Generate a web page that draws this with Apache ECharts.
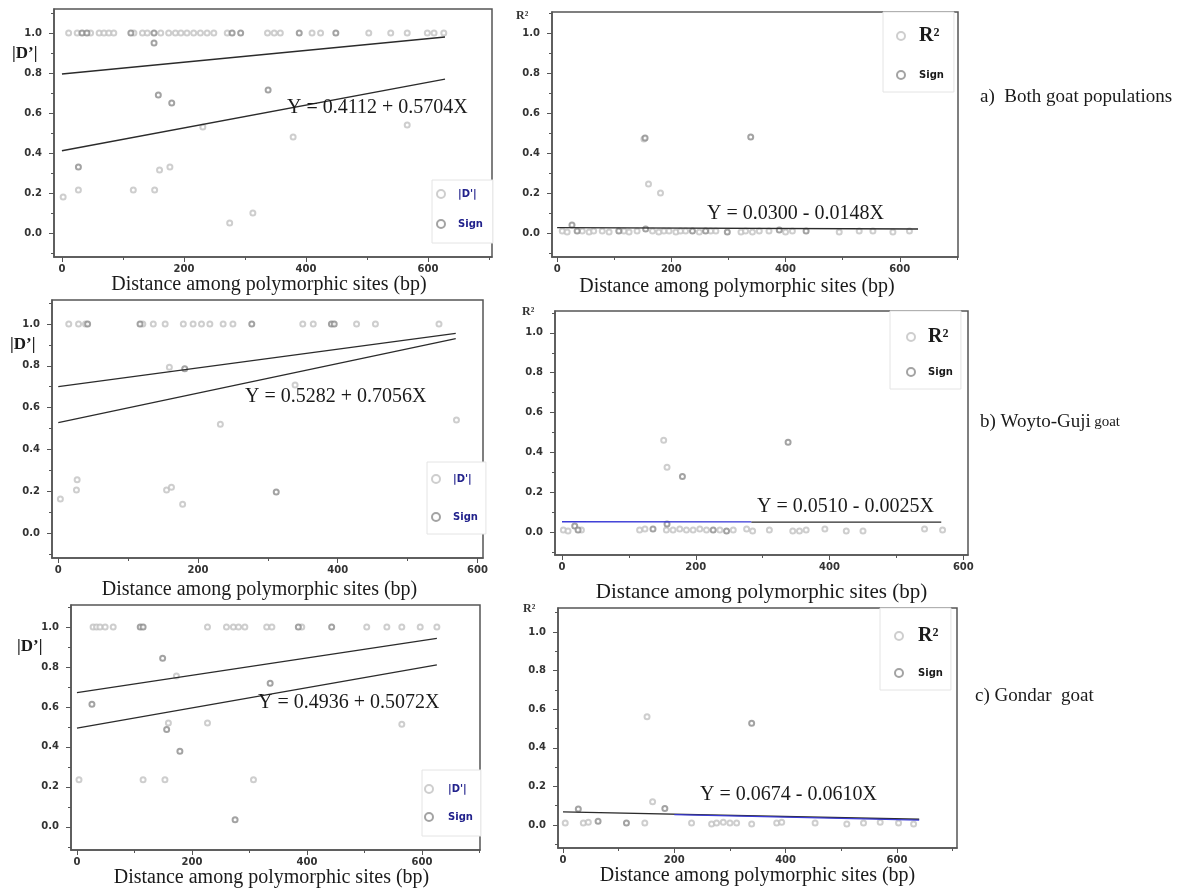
<!DOCTYPE html>
<html>
<head>
<meta charset="utf-8">
<title>LD decay - goat populations</title>
<script src="https://cdn.jsdelivr.net/npm/echarts@6/dist/echarts.min.js"></script>
<style>
  html, body { margin: 0; padding: 0; background: #fff; }
  #chart { width: 1181px; height: 892px; }
</style>
</head>
<body>
<div id="chart"></div>
<script>
// tick labels
const xTicks = [0, 200, 400, 600];
const xMinorTicks = [100, 300, 500, 700];
const yTicks = [0, 0.2, 0.4, 0.6, 0.8, 1.0];
const yMinorTicks = [-0.1, 0.1, 0.3, 0.5, 0.7, 0.9, 1.1];

/* a) both goat populations : [distance (bp), value] */
const bothD = [[11,1],[25,1],[47,1],[61,1],[69,1],[77,1],[85,1],[118,1],[132,1],[140,1],[162,1],[175,1],[186,1],[195,1],[205,1],[216,1],[227,1],[238,1],[249,1],[271,1],[337,1],[348,1],[358,1],[410,1],[424,1],[503,1],[539,1],[566,1],[599,1],[610,1],[626,1],
  [2,0.18],[27,0.215],[117,0.215],[152,0.215],[160,0.315],[177,0.33],[231,0.53],[275,0.05],[313,0.10],[379,0.48],[566,0.54]];
const bothDSign = [[33,1],[41,1],[113,1],[151,1],[279,1],[293,1],[389,1],[449,1],[151,0.95],[27,0.33],[158,0.69],[180,0.65],[338,0.715]];
const bothDFitUpper = [[0,0.795],[628,0.98]];
const bothDFitLower = [[0,0.4112],[628,0.769]];
const bothR2 = [[9,0.01],[17.5,0.005],[44,0.01],[56,0.005],[64,0.01],[79,0.01],[91,0.005],[117,0.01],[126,0.005],[140,0.01],[167,0.01],[178,0.005],[187,0.01],[196,0.01],[208,0.005],[216,0.01],[225,0.01],[249,0.005],[269,0.01],[278,0.01],[322,0.005],[330,0.01],[342,0.005],[354,0.01],[371,0.01],[400,0.005],[412,0.01],[494,0.005],[529,0.01],[553,0.01],[588,0.005],[617,0.01],
  [152,0.47],[160,0.245],[181,0.20]];
const bothR2Sign = [[26,0.04],[35,0.01],[108,0.01],[155,0.02],[237,0.01],[260,0.01],[298,0.005],[389,0.015],[436,0.01],[154,0.475],[339,0.48]];
const bothR2Fit = [[0,0.027],[632,0.02]];

/* b) Woyto-Guji goat */
const woytoD = [[15,1],[29,1],[39,1],[121,1],[136,1],[153,1],[179,1],[193,1],[205,1],[217,1],[236,1],[250,1],[350,1],[365,1],[427,1],[454,1],[545,1],
  [3,0.163],[26,0.206],[27,0.254],[155,0.206],[162,0.219],[178,0.137],[159,0.793],[232,0.52],[339,0.708],[570,0.54]];
const woytoDSign = [[42,1],[117,1],[277,1],[391,1],[395,1],[181,0.786],[312,0.196]];
const woytoDFitUpper = [[0,0.70],[569,0.955]];
const woytoDFitLower = [[0,0.528],[569,0.93]];
const woytoR2 = [[2,0.01],[9,0.005],[29,0.01],[116,0.01],[124,0.015],[156,0.01],[166,0.01],[176,0.015],[186,0.01],[196,0.01],[206,0.015],[216,0.01],[236,0.01],[256,0.01],[276,0.015],[285,0.005],[310,0.01],[345,0.005],[355,0.005],[365,0.01],[393,0.015],[425,0.005],[450,0.005],[542,0.015],[569,0.01],
  [152,0.46],[157,0.325]];
const woytoR2Sign = [[19,0.03],[24,0.01],[136,0.015],[157,0.04],[226,0.01],[246,0.005],[180,0.278],[338,0.45]];
const woytoR2FitBlue = [[0,0.051],[283,0.050]];
const woytoR2Fit = [[283,0.049],[567,0.0496]];

/* c) Gondar goat */
const gondarD = [[28,1],[34,1],[40,1],[49,1],[63,1],[227,1],[260,1],[272,1],[281,1],[292,1],[330,1],[339,1],[391,1],[504,1],[539,1],[565,1],[597,1],[626,1],
  [3.5,0.236],[115,0.236],[153,0.236],[159,0.52],[173,0.755],[227,0.52],[307,0.236],[565,0.513]];
const gondarDSign = [[110,1],[115,1],[385,1],[443,1],[26,0.613],[149,0.844],[156,0.487],[179,0.378],[275,0.035],[336,0.718]];
const gondarDFitUpper = [[0,0.672],[626,0.943]];
const gondarDFitLower = [[0,0.4936],[626,0.81]];
const gondarR2 = [[4,0.01],[36.5,0.01],[45.5,0.015],[147,0.01],[231,0.01],[267,0.005],[276,0.01],[288,0.015],[300,0.01],[312,0.01],[339,0.005],[384,0.01],[393,0.015],[453,0.01],[510,0.005],[540,0.01],[570,0.015],[603,0.01],[630,0.005],
  [151,0.561],[161,0.121]];
const gondarR2Sign = [[27.5,0.083],[63,0.02],[114,0.01],[183,0.086],[339,0.527]];
const gondarR2Fit = [[0,0.068],[640,0.030]];
const gondarR2FitBlue = [[200,0.054],[640,0.025]];

const equations = ['Y = 0.4112 + 0.5704X', 'Y = 0.0300 - 0.0148X', 'Y = 0.5282 + 0.7056X', 'Y = 0.0510 - 0.0025X', 'Y = 0.4936 + 0.5072X', 'Y = 0.0674 - 0.0610X'];

// layout of the six panels (pixels)
const panels = [
  { kind:'D', grid:[54,9,438,248], x:[-13,705], y:[-0.12,1.12], pts:bothD, sign:bothDSign, fits:[bothDFitUpper,bothDFitLower], blue:null,
    eq:[287,109], yname:[12,54], nameGap:16, nameShift:4, nameSize:20, legend:[432,180], lpad:[9,10,14,4], lgap:20, ltext:8 },
  { kind:'R', grid:[552,12,406,245], x:[-9,702], y:[-0.12,1.105], pts:bothR2, sign:bothR2Sign, fits:[bothR2Fit], blue:null,
    eq:[707,215], yname:[516,17], nameGap:20, nameShift:18, nameSize:20, legend:[883,12], lpad:[14,10,12,13], lgap:24, ltext:9 },
  { kind:'D', grid:[52,300,431,258], x:[-9,608], y:[-0.12,1.115], pts:woytoD, sign:woytoDSign, fits:[woytoDFitUpper,woytoDFitLower], blue:null,
    eq:[245,398], yname:[10,345], nameGap:22, nameShift:8, nameSize:20, legend:[427,462], lpad:[12,8,12,4], lgap:28, ltext:8 },
  { kind:'R', grid:[555,311,413,244], x:[-10.5,607], y:[-0.116,1.11], pts:woytoR2, sign:woytoR2Sign, fits:[woytoR2Fit], blue:woytoR2FitBlue,
    eq:[757,508], yname:[522,313], nameGap:27, nameShift:0, nameSize:21, legend:[890,311], lpad:[16,8,12,16], lgap:20, ltext:8 },
  { kind:'D', grid:[71,605,409,245], x:[-10.4,701], y:[-0.116,1.11], pts:gondarD, sign:gondarDSign, fits:[gondarDFitUpper,gondarDFitLower], blue:null,
    eq:[258,704], yname:[17,647], nameGap:18, nameShift:4, nameSize:20, legend:[422,770], lpad:[14,8,14,2], lgap:18, ltext:10 },
  { kind:'R', grid:[558,608,399,240], x:[-9,708], y:[-0.119,1.124], pts:gondarR2, sign:gondarR2Sign, fits:[gondarR2Fit], blue:gondarR2FitBlue,
    eq:[700,796], yname:[523,610], nameGap:17, nameShift:0, nameSize:20, legend:[880,608], lpad:[18,8,12,14], lgap:22, ltext:10 }
];

const axisColor = '#555';
const tickFont = { color:'#333', fontFamily:'DejaVu Sans', fontWeight:'bold', fontSize:10 };

function inRange(vals, r) {
  return vals.filter(v => v >= r[0] && v <= r[1]);
}

const option = {
  animation: false,
  backgroundColor: '#fff',
  grid: [], xAxis: [], yAxis: [], legend: [], series: [], graphic: []
};

panels.forEach((p, i) => {
  option.grid.push({
    left:p.grid[0], top:p.grid[1], width:p.grid[2], height:p.grid[3],
    show:true, borderColor:axisColor, borderWidth:1.5, backgroundColor:'#fff'
  });

  // main axes with labels, second pair only for the short minor ticks
  option.xAxis.push({
    type:'value', gridIndex:i, min:p.x[0], max:p.x[1], position:'bottom',
    splitLine:{show:false},
    axisLine:{show:true, onZero:false, lineStyle:{color:axisColor, width:1.5}},
    axisTick:{show:true, customValues:xTicks, length:5, lineStyle:{color:axisColor}},
    axisLabel:Object.assign({customValues:xTicks, margin:7}, tickFont),
    name:'Distance among polymorphic sites (bp)', nameLocation:'middle', nameGap:p.nameGap,
    nameTextStyle:{fontFamily:'Liberation Serif', fontSize:p.nameSize, color:'#1a1a1a', padding:[0, p.nameShift * 2, 0, 0]}
  }, {
    type:'value', gridIndex:i, min:p.x[0], max:p.x[1], position:'bottom',
    splitLine:{show:false}, axisLine:{show:false, onZero:false}, axisLabel:{show:false},
    axisTick:{show:true, customValues:inRange(xMinorTicks, p.x), length:3, lineStyle:{color:axisColor}}
  });
  option.yAxis.push({
    type:'value', gridIndex:i, min:p.y[0], max:p.y[1], position:'left',
    splitLine:{show:false},
    axisLine:{show:true, onZero:false, lineStyle:{color:axisColor, width:1.5}},
    axisTick:{show:true, customValues:yTicks, length:5, lineStyle:{color:axisColor}},
    axisLabel:Object.assign({customValues:yTicks, margin:12, formatter:v => v.toFixed(1)}, tickFont)
  }, {
    type:'value', gridIndex:i, min:p.y[0], max:p.y[1], position:'left',
    splitLine:{show:false}, axisLine:{show:false, onZero:false}, axisLabel:{show:false},
    axisTick:{show:true, customValues:inRange(yMinorTicks, p.y), length:3, lineStyle:{color:axisColor}}
  });

  const mainName = p.kind === 'D' ? "|D'|" : 'R²';
  option.series.push({
    type:'scatter', name:mainName, xAxisIndex:2 * i, yAxisIndex:2 * i, data:p.pts,
    symbol:'emptyCircle', symbolSize:5, itemStyle:{color:'#c2c2c2', borderWidth:1}, z:3
  }, {
    type:'scatter', name:'Sign', xAxisIndex:2 * i, yAxisIndex:2 * i, data:p.sign,
    symbol:'emptyCircle', symbolSize:5, itemStyle:{color:'#8c8c8c', borderWidth:1}, z:4
  });
  p.fits.forEach(f => {
    option.series.push({
      type:'line', xAxisIndex:2 * i, yAxisIndex:2 * i, data:f, symbol:'none', silent:true,
      lineStyle:{color:'#2b2b2b', width:1.3}, z:5
    });
  });
  if (p.blue) {
    option.series.push({
      type:'line', xAxisIndex:2 * i, yAxisIndex:2 * i, data:p.blue, symbol:'none', silent:true,
      lineStyle:{color:'#3a3ad6', width:1.3}, z:5
    });
  }

  /* legend box inside each plot */
  option.legend.push({
    orient:'vertical', left:p.legend[0], top:p.legend[1], selectedMode:false,
    itemWidth:8, itemHeight:8, itemGap:p.lgap, padding:p.lpad,
    borderColor:'#e4e4e4', borderWidth:1, backgroundColor:'#fff',
    textStyle:Object.assign({}, tickFont, {color:p.kind === 'D' ? '#22228c' : '#1a1a1a', padding:[0,0,0,p.ltext]}),
    data:p.kind === 'D' ? ["|D'|", 'Sign']
      : [{name:'R²', textStyle:{fontFamily:'Liberation Serif', fontWeight:'bold', fontSize:20, color:'#1a1a1a', padding:[0,0,0,p.ltext]}}, 'Sign']
  });

  option.graphic.push({
    type:'text', left:p.eq[0], top:p.eq[1] - 11, z:10,
    style:{text:equations[i], font:'20px "Liberation Serif"', fill:'#1a1a1a'}
  });
  if (p.kind === 'D') {
    option.graphic.push({
      type:'text', left:p.yname[0], top:p.yname[1] - 9, z:10,
      style:{text:'|D’|', font:'bold 17px "Liberation Serif"', fill:'#1a1a1a'}
    });
  } else {
    option.graphic.push({
      type:'text', left:p.yname[0], top:p.yname[1] - 7, z:10,
      style:{text:'R²', font:'bold 12px "Liberation Serif"', fill:'#333'}
    });
  }
});

// population labels on the right
option.graphic.push(
  { type:'text', left:980, top:88, style:{text:'a)  Both goat populations', font:'19px "Liberation Serif"', fill:'#1a1a1a'} },
  { type:'text', left:980, top:413, style:{text:'{m|b) Woyto-Guji} {s|goat}', rich:{
      m:{font:'19px "Liberation Serif"', fill:'#1a1a1a'}, s:{font:'15px "Liberation Serif"', fill:'#1a1a1a'}}} },
  { type:'text', left:975, top:687, style:{text:'c) Gondar  goat', font:'19px "Liberation Serif"', fill:'#1a1a1a'} }
);

const chart = echarts.init(document.getElementById('chart'));
chart.setOption(option);
</script>
</body>
</html>
